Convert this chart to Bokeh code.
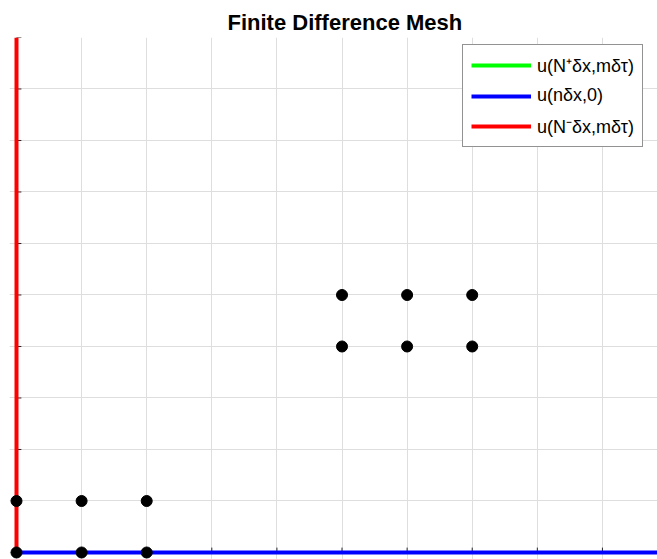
from bokeh.plotting import figure
from bokeh.models import Range1d, Legend, LegendItem, FixedTicker
from bokeh.embed import file_html
from bokeh.resources import INLINE

# data
grid_x = [0, 1, 2, 3, 4, 5, 6, 7, 8, 9, 10]
grid_y = [0, 1, 2, 3, 4, 5, 6, 7, 8, 9, 10]
mesh_x = [0, 1, 2, 0, 1, 2, 5, 6, 7, 5, 6, 7]
mesh_y = [0, 0, 0, 1, 1, 1, 4, 4, 4, 5, 5, 5]
right_bc_x = [10, 10]
right_bc_y = [0, 10]
initial_x = [0, 10]
initial_y = [0, 0]
left_bc_x = [0, 0]
left_bc_y = [0, 10]
labels = ["u(N\u207a\u03b4x,m\u03b4\u03c4)", "u(n\u03b4x,0)", "u(N\u207b\u03b4x,m\u03b4\u03c4)"]

p = figure(width=657, height=559, output_backend="svg", toolbar_location=None,
           x_range=Range1d(-0.1075, 9.846), y_range=Range1d(-0.136, 10),
           min_border_left=9, min_border_right=0, min_border_bottom=0, min_border_top=37,
           title="Finite Difference Mesh")
p.title.text_font = "Liberation Sans"
p.title.text_font_size = "22px"
p.title.text_font_style = "bold"
p.title.text_color = "#000000"
p.title.align = "left"
p.title.offset = 218
p.title.standoff = 5
p.outline_line_color = None
p.background_fill_color = "white"
p.border_fill_color = "white"
p.xaxis.visible = False
p.yaxis.visible = False
p.xgrid.ticker = FixedTicker(ticks=grid_x)
p.ygrid.ticker = FixedTicker(ticks=grid_y)
for g in (p.xgrid, p.ygrid):
    g.grid_line_color = "#dedede"
    g.grid_line_width = 1

# small inward ticks
p.segment(x0=[0] * len(grid_y), y0=grid_y, x1=[0.075] * len(grid_y), y1=grid_y,
          line_color="#262626", line_width=1)
p.segment(x0=grid_x, y0=[0] * len(grid_x), x1=grid_x, y1=[0.095] * len(grid_x),
          line_color="#262626", line_width=1)

g1 = p.line(right_bc_x, right_bc_y, line_color="#00ff00", line_width=4)
g2 = p.line(initial_x, initial_y, line_color="#0000ff", line_width=4)
g3 = p.line(left_bc_x, left_bc_y, line_color="#ff0000", line_width=4)
p.scatter(mesh_x, mesh_y, size=11, fill_color="black", line_color="black")

legend = Legend(items=[LegendItem(label=labels[0], renderers=[g1]),
                       LegendItem(label=labels[1], renderers=[g2]),
                       LegendItem(label=labels[2], renderers=[g3])],
                location=(453, 412))
legend.border_line_color = "#262626"
legend.border_line_width = 1
legend.background_fill_alpha = 1
legend.padding = 8
legend.margin = 0
legend.spacing = 8
legend.glyph_width = 60
legend.glyph_height = 20
legend.label_height = 20
legend.label_standoff = 6
legend.label_text_font = "Liberation Sans"
legend.label_text_font_size = "18px"
legend.label_text_color = "#000000"
p.add_layout(legend, "center")

open("out.html", "w").write(file_html(p, INLINE))
